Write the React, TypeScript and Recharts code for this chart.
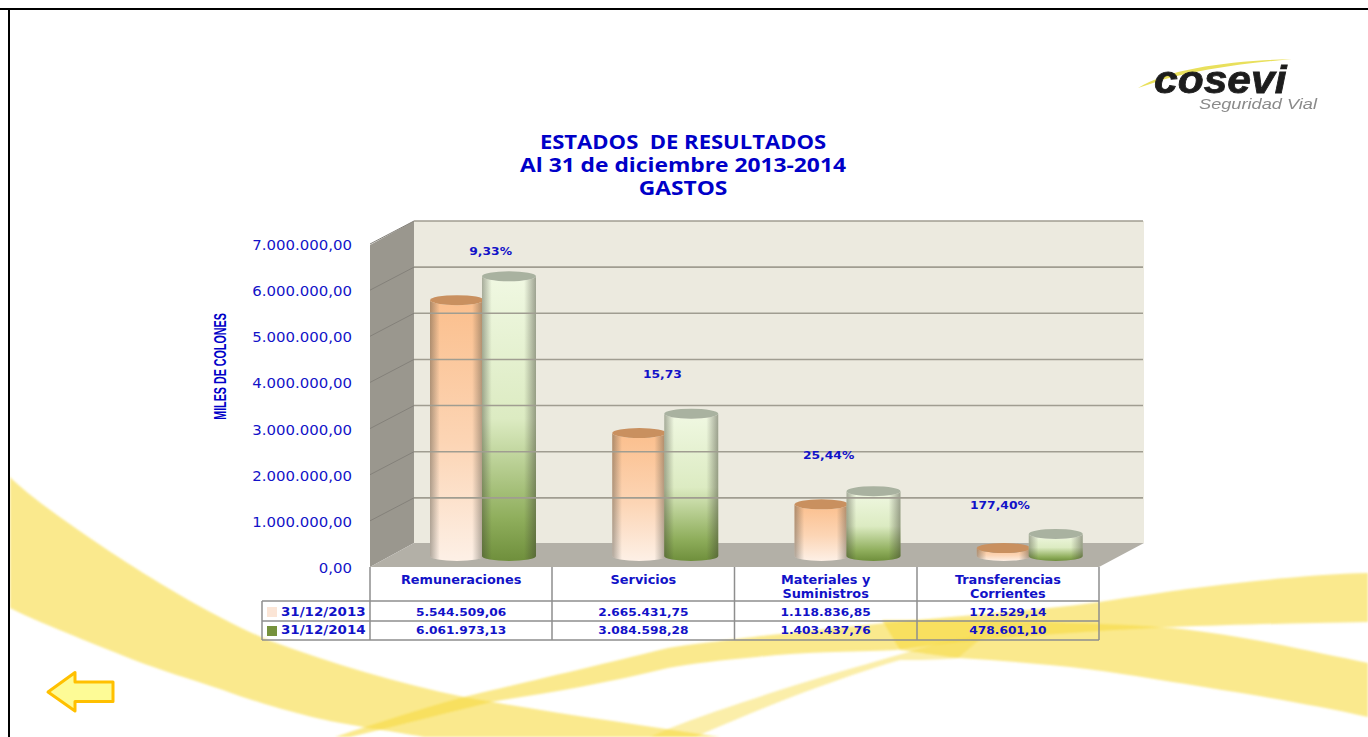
import React from 'react';
import { ComposedChart, Bar, Line, XAxis, YAxis, LabelList } from 'recharts';

const categories = ['Remuneraciones', 'Servicios', 'Materiales y Suministros', 'Transferencias Corrientes'];
const values2013 = [5544509.06, 2665431.75, 1118836.85, 172529.14];
const values2014 = [6061973.13, 3084598.28, 1403437.76, 478601.1];
const variations = ['9,33%', '15,73', '25,44%', '177,40%'];
// height on the value axis at which each variation note sits
const variationHeights = [6850000, 4180000, 2430000, 1340000];
const variationShift = [29.5, 19, 3, -8];
const yTicks = [0, 1000000, 2000000, 3000000, 4000000, 5000000, 6000000, 7000000];

const data = categories.map((name, i) => ({
  name,
  v2013: values2013[i],
  v2014: values2014[i],
  note: variationHeights[i],
}));

const BLUE = '#1212c8';
const TABLE_FONT = '"DejaVu Sans", sans-serif';
const DEPTH_X = 44;
const DEPTH_Y = 23;
const LINE = '#8e8e8e';
const BAND = '#f7da40';

const money = (v: number) =>
  v.toLocaleString('de-DE', { minimumFractionDigits: 2, maximumFractionDigits: 2 });

const Cylinder = (props: any) => {
  const { x, y, width, height, series } = props;
  const rx = width / 2;
  const ry = 5;
  const left = x + 22;
  const top = y - 11;
  const bottom = top + height;
  const body = `M${left} ${top} L${left} ${bottom} A${rx} ${ry} 0 0 0 ${left + width} ${bottom} L${left + width} ${top} A${rx} ${ry} 0 0 1 ${left} ${top} Z`;
  return (
    <g>
      <path d={body} fill={`url(#body${series})`} />
      <path d={body} fill="url(#edge)" />
      <ellipse cx={left + rx} cy={top} rx={rx} ry={ry} fill={series === '2013' ? '#c9905f' : '#a9b2a0'} />
    </g>
  );
};

const ValueTick = (props: any) => {
  const { x, y, payload } = props;
  const line = payload.value !== 0;
  return (
    <g>
      {line && <line x1={370} y1={y} x2={370 + DEPTH_X} y2={y - DEPTH_Y} stroke="#84817a" strokeWidth={1} />}
      {line && <line x1={370 + DEPTH_X} y1={y - DEPTH_Y} x2={1099 + DEPTH_X} y2={y - DEPTH_Y} stroke="#a09d91" strokeWidth={1.6} />}
      <text
        transform={`translate(${x} ${y + 6}) scale(1.09 1)`}
        textAnchor="end"
        fill={BLUE}
        fontFamily={TABLE_FONT}
        fontSize={13.7}
      >
        {money(payload.value)}
      </text>
    </g>
  );
};

const cellText = { fill: BLUE, fontFamily: TABLE_FONT, fontSize: 11.2, fontWeight: 700, textAnchor: 'middle' as const };
const stretch = (x: number, y: number, sx = 1.09) => `translate(${x} ${y}) scale(${sx} 1)`;

// category name plus the two value rows underneath it
const TableTick = (props: any) => {
  const { x, y, payload, index } = props;
  const words = payload.value.split(' ');
  const lines = words.length > 1 ? [words.slice(0, -1).join(' '), words[words.length - 1]] : words;
  return (
    <g>
      {lines.map((line: string, i: number) => (
        <text key={line} transform={stretch(x, y + 17 + i * 14)} {...cellText} fontSize={11.8}>
          {line}
        </text>
      ))}
      <text transform={stretch(x, y + 48.5)} {...cellText}>{money(values2013[index])}</text>
      <text transform={stretch(x, y + 67)} {...cellText}>{money(values2014[index])}</text>
    </g>
  );
};

const VariationLabel = (props: any) => {
  const { x, y, index } = props;
  return (
    <text transform={stretch(x + variationShift[index], y + 4, 1.1)} {...cellText}>
      {variations[index]}
    </text>
  );
};

const Backdrop = () => (
  <svg width={1368} height={737} style={{ position: 'absolute', left: 0, top: 0 }}>
    <defs>
      <linearGradient id="body2013" x1="0" y1="0" x2="0" y2="1">
        <stop offset="0" stopColor="#fbbf8d" />
        <stop offset="0.55" stopColor="#fcd5b5" />
        <stop offset="1" stopColor="#fdf0e6" />
      </linearGradient>
      <linearGradient id="body2014" x1="0" y1="0" x2="0" y2="1">
        <stop offset="0" stopColor="#f0f8e2" />
        <stop offset="0.5" stopColor="#dcebc2" />
        <stop offset="0.85" stopColor="#8fae5c" />
        <stop offset="1" stopColor="#6f8f3c" />
      </linearGradient>
      <linearGradient id="edge" x1="0" y1="0" x2="1" y2="0">
        <stop offset="0" stopColor="#3a3a30" stopOpacity="0.4" />
        <stop offset="0.18" stopColor="#3a3a30" stopOpacity="0" />
        <stop offset="0.78" stopColor="#3a3a30" stopOpacity="0" />
        <stop offset="1" stopColor="#3a3a30" stopOpacity="0.45" />
      </linearGradient>
      <filter id="soft"><feGaussianBlur stdDeviation="0.6" /></filter>
      <filter id="bandBlur"><feGaussianBlur stdDeviation="1.2" /></filter>
    </defs>

    <g filter="url(#bandBlur)" fill={BAND} fillOpacity={0.6}>
      <path d="M10 477 C25 493 70 525 112 553 C150 578 215 618 268 640 C330 663 400 684 464 697 C540 711 640 725 720 737 L424 737 C390 731 340 724 312 717 C280 709 250 700 223 690 C190 679 160 670 134 660 C110 650 90 643 67 633 C45 624 28 617 10 608 Z" />
      <path d="M335 737 C380 722 430 706 464 697 C510 686 620 660 668 648 C720 640 840 627 918 620 C980 614 1040 610 1092 603 C1140 596 1170 591 1204 587 C1260 580 1320 574 1368 573 L1368 622 C1300 623 1230 625 1172 627 C1100 630 960 640 896 650 C850 652 800 652 757 657 C720 660 690 664 668 668 C640 675 610 681 580 687 C550 693 520 697 491 702 C450 712 400 725 350 737 Z" />
      <path d="M882 620 C950 620 1100 622 1172 628 C1210 632 1240 637 1271 643 C1305 650 1340 657 1368 663 L1368 717 C1320 706 1260 696 1204 687 C1160 680 1115 672 1070 667 C1030 663 995 660 958 658 C935 655 915 652 900 650 Z" />
      <path d="M668 729 C700 716 740 703 780 690 C820 677 860 666 891 657 C915 650 935 644 954 640 L985 635 L958 658 C935 660 920 660 900 660 C865 670 835 681 802 693 C770 705 730 722 695 737 L650 737 Z" fillOpacity={0.45} />
    </g>

    <rect x={0} y={8} width={1368} height={2} fill="#000" />
    <rect x={8} y={8} width={2} height={729} fill="#000" />

    <polygon points="370,245 414,221 414,543 370,567" fill="#9a978e" />
    <polygon points="414,221 1144,221 1144,543 414,543" fill="#eceadf" />
    <polygon points="370,567 414,543 1144,543 1099,567" fill="#b3b0a7" />

    <rect x={370} y={567} width={729} height={34} fill="#fff" />

    <path d="M1138 88 C1170 68 1230 61 1292 59 C1240 64 1190 70 1150 84 Z" fill="#e9e05c" filter="url(#soft)" />
    <text
      transform="translate(1154 93) scale(1.12 1)"
      fontFamily='"Liberation Sans", sans-serif'
      fontWeight={700}
      fontStyle="italic"
      fontSize={38}
      fill="#1c1c1c"
      stroke="#1c1c1c"
      strokeWidth={0.8}
      filter="url(#soft)"
    >
      cosevi
    </text>
    <text
      transform="translate(1199 108.5) scale(1.3 1)"
      fontFamily='"Liberation Sans", sans-serif'
      fontStyle="italic"
      fontSize={14}
      fill="#8a8a8a"
      filter="url(#soft)"
    >
      Seguridad Vial
    </text>

    <polygon points="48,692 75,672.5 75,682 113,682 113,701.5 75,701.5 75,711" fill="#fdfb96" stroke="#ffc000" strokeWidth={3} strokeLinejoin="round" />
  </svg>
);

const legendText = { fill: BLUE, fontFamily: TABLE_FONT, fontSize: 12, fontWeight: 700 };

const Overlay = () => (
  <svg width={1368} height={737} style={{ position: 'absolute', left: 0, top: 0, pointerEvents: 'none' }}>
    <g stroke={LINE} strokeWidth={1.5} fill="none">
      <line x1={370} y1={567} x2={370} y2={640} />
      <line x1={552} y1={567} x2={552} y2={640} />
      <line x1={734.5} y1={567} x2={734.5} y2={640} />
      <line x1={917} y1={567} x2={917} y2={640} />
      <line x1={1099} y1={567} x2={1099} y2={640} />
      <line x1={262} y1={601} x2={1099} y2={601} />
      <line x1={262} y1={621} x2={1099} y2={621} />
      <line x1={262} y1={640} x2={1099} y2={640} />
      <line x1={262} y1={601} x2={262} y2={640} />
    </g>
    <rect x={267} y={607} width={10} height={10} fill="#fbe5d6" />
    <rect x={267} y={626} width={10} height={10} fill="#76923c" />
    <text transform="translate(281 615.5) scale(1.12 1)" {...legendText}>31/12/2013</text>
    <text transform="translate(281 634) scale(1.12 1)" {...legendText}>31/12/2014</text>

    <g textAnchor="middle" fill="#0000c8" fontFamily='"Open Sans", sans-serif' fontSize={19} fontWeight={700}>
      <text transform="translate(683 149) scale(1.16 1)" xmlSpace="preserve">ESTADOS  DE RESULTADOS</text>
      <text transform="translate(683 172) scale(1.2 1)">Al 31 de diciembre 2013-2014</text>
      <text transform="translate(683 195) scale(1.2 1)">GASTOS</text>
    </g>
    <text
      transform="translate(226 366.5) rotate(-90) scale(0.65 1)"
      textAnchor="middle"
      fill="#0000c8"
      fontFamily='"Liberation Sans", sans-serif'
      fontSize={16.5}
      fontWeight={700}
    >
      MILES DE COLONES
    </text>
  </svg>
);

export default function App() {
  return (
    <div style={{ position: 'absolute', left: 0, top: 0, width: 1368, height: 737, background: '#fff', overflow: 'hidden' }}>
      <Backdrop />
      <div style={{ position: 'absolute', left: 0, top: 0 }}>
        <ComposedChart
          width={1368}
          height={737}
          data={data}
          barSize={54}
          barGap={-2}
          barCategoryGap={0}
          margin={{ top: 244, right: 269, bottom: 0, left: 260 }}
        >
          <XAxis dataKey="name" interval={0} height={170} axisLine={false} tickLine={false} tickSize={0} tickMargin={0} tick={<TableTick />} />
          <YAxis
            domain={[0, 7000000]}
            ticks={yTicks}
            width={110}
            axisLine={false}
            tickLine={false}
            tickSize={0}
            tickMargin={18}
            tick={<ValueTick />}
          />
          <Bar dataKey="v2013" isAnimationActive={false} shape={<Cylinder series="2013" />} />
          <Bar dataKey="v2014" isAnimationActive={false} shape={<Cylinder series="2014" />} />
          <Line dataKey="note" stroke="none" dot={false} activeDot={false} isAnimationActive={false}>
            <LabelList dataKey="note" content={<VariationLabel />} />
          </Line>
        </ComposedChart>
      </div>
      <Overlay />
    </div>
  );
}
